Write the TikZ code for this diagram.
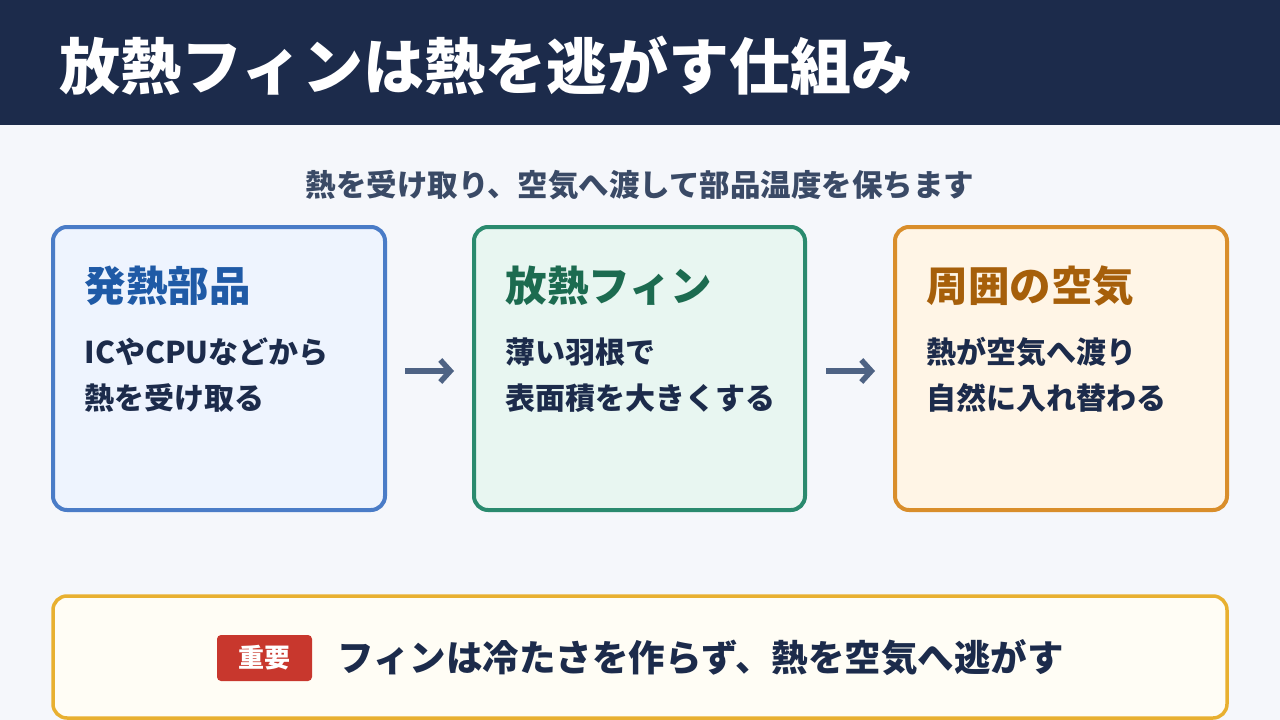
\documentclass[tikz,border=0pt]{standalone}
\usepackage{fontspec}
\setmainfont{Noto Sans CJK JP}
\usetikzlibrary{arrows.meta}
\definecolor{navy}{HTML}{1C2B4B}
\definecolor{bg}{HTML}{F5F7FB}
\definecolor{sub}{HTML}{3A4A66}
\definecolor{bB}{HTML}{4A7CC7}\definecolor{fB}{HTML}{EEF4FE}\definecolor{tB}{HTML}{1F5AA6}
\definecolor{bG}{HTML}{2A8A6E}\definecolor{fG}{HTML}{E8F6F1}\definecolor{tG}{HTML}{1C6B50}
\definecolor{bO}{HTML}{D98E2B}\definecolor{fO}{HTML}{FFF5E6}\definecolor{tO}{HTML}{A65F0A}
\definecolor{bY}{HTML}{E8B030}\definecolor{fY}{HTML}{FFFDF5}
\definecolor{red}{HTML}{C8372D}
\definecolor{arr}{HTML}{4E6384}
\tikzset{
 card/.style={draw=#1,line width=4pt,rounded corners=14pt},
 ttl/.style={anchor=west,font=\fontsize{41.5}{48}\selectfont\bfseries,text=#1},
 body/.style={anchor=west,font=\fontsize{30}{36}\selectfont\bfseries,text=navy},
 flow/.style={-{Straight Barb[length=10pt,width=22pt,line width=5.5pt]},line width=6.5pt,draw=arr}
}
\begin{document}
\begin{tikzpicture}[x=1pt,y=-1pt]
\useasboundingbox (0,0) rectangle (1280,720);
\fill[bg] (0,0) rectangle (1280,720);
\fill[navy] (0,0) rectangle (1280,125);
\node[anchor=west,text=white,font=\fontsize{61}{70}\selectfont\bfseries] (title) at (56,66) {放熱フィンは熱を逃がす仕組み};
\node[text=sub,font=\fontsize{30.5}{36}\selectfont\bfseries] (subt) at (640,185) {熱を受け取り、空気へ渡して部品温度を保ちます};
\draw[card=bB,fill=fB] (53,227) rectangle (385,510);
\draw[card=bG,fill=fG] (474,227) rectangle (805,510);
\draw[card=bO,fill=fO] (895,227) rectangle (1227,510);
\node[ttl=tB] (t1) at (81,286) {発熱部品};
\node[body] (a1) at (81,352) {ICやCPUなどから};
\node[body] (a2) at (81,398) {熱を受け取る};
\node[ttl=tG] (t2) at (502,286) {放熱フィン};
\node[body] (b1) at (502,352) {薄い羽根で};
\node[body] (b2) at (502,398) {表面積を大きくする};
\node[ttl=tO] (t3) at (923,286) {周囲の空気};
\node[body] (c1) at (923,352) {熱が空気へ渡り};
\node[body] (c2) at (923,398) {自然に入れ替わる};
\coordinate (p1) at (405,371); \coordinate (q1) at (454,371);
\coordinate (p2) at (826,371); \coordinate (q2) at (875,371);
\draw[flow] (p1) -- (q1);
\draw[flow] (p2) -- (q2);
\draw[card=bY,fill=fY,line width=3.5pt] (53,596) rectangle (1227,718);
\node[fill=red,rounded corners=4pt,text=white,font=\fontsize{26}{30}\selectfont\bfseries,minimum width=95pt,minimum height=46pt,inner sep=0pt] (badge) at (264.5,658) {重要};
\node[anchor=west,text=navy,font=\fontsize{36.5}{42}\selectfont\bfseries] (msg) at (334,658) {フィンは冷たさを作らず、熱を空気へ逃がす};
\end{tikzpicture}
\end{document}
